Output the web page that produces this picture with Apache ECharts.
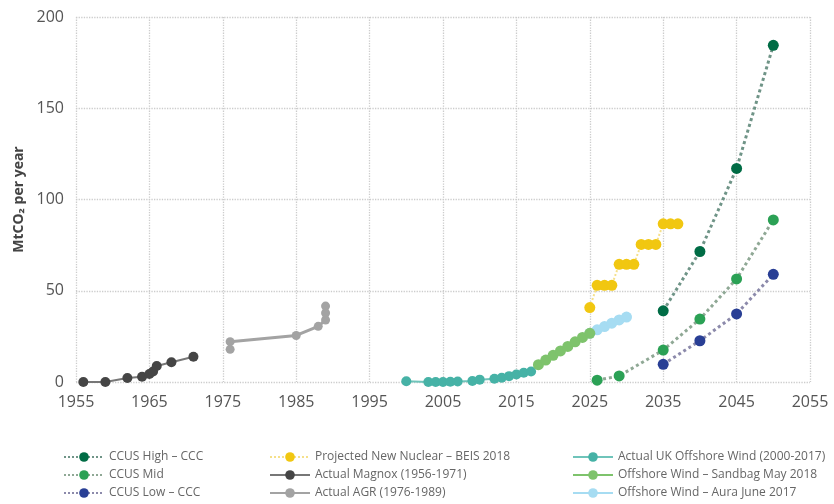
<!DOCTYPE html>
<html>
<head>
<meta charset="utf-8">
<script src="https://cdn.jsdelivr.net/npm/echarts@6/dist/echarts.min.js"></script>
<style>
  html, body { margin: 0; padding: 0; background: #ffffff; }
  #chart { width: 834px; height: 504px; }
</style>
</head>
<body>
<div id="chart"></div>
<script>
// Axis ticks
const xTicks = { min: 1955, max: 2055, step: 10 };
const yTicks = { min: 0, max: 200, step: 50 };

// CCUS scenarios (MtCO2 per year)
const ccusHighYears = [2035, 2040, 2045, 2050];
const ccusHighValues = [39, 71.5, 117, 184.5];
const ccusMidYears = [2026, 2029, 2035, 2040, 2045, 2050];
const ccusMidValues = [1, 3.3, 17.5, 34.5, 56.5, 88.8];
const ccusLowYears = [2035, 2040, 2045, 2050];
const ccusLowValues = [9.7, 22.6, 37.3, 59];

// Nuclear
const nuclearYears = [2025, 2026, 2027, 2028, 2029, 2030, 2031, 2032, 2033, 2034, 2035, 2036, 2037];
const nuclearValues = [40.8, 53, 53, 53, 64.5, 64.5, 64.5, 75.4, 75.4, 75.4, 86.7, 86.7, 86.7];
const magnoxYears = [1956, 1959, 1962, 1964, 1965, 1965.5, 1966, 1968, 1971];
const magnoxValues = [0, 0, 2.2, 2.9, 4.4, 5.8, 8.8, 10.8, 13.8];
const agrYears = [1976, 1976, 1985, 1988, 1989, 1989, 1989];
const agrValues = [17.9, 22.1, 25.5, 30.5, 34, 37.8, 41.6];

// Offshore wind
const windActualYears = [2000, 2003, 2004, 2005, 2006, 2007, 2009, 2010, 2012, 2013, 2014, 2015, 2016, 2017];
const windActualValues = [0.4, 0, 0, 0, 0.1, 0.3, 0.5, 1.3, 1.8, 2.3, 3.2, 4.1, 5.1, 5.8];
const sandbagYears = [2018, 2019, 2020, 2021, 2022, 2023, 2024, 2025];
const sandbagValues = [9.5, 12, 14.6, 17, 19.5, 22, 24.4, 26.7];
const auraYears = [2025, 2026, 2027, 2028, 2029, 2030];
const auraValues = [26.7, 28.6, 30.4, 32.2, 34, 35.6];

// Legend columns
const legendCol1 = ['CCUS High – CCC', 'CCUS Mid', 'CCUS Low – CCC'];
const legendCol2 = ['Projected New Nuclear – BEIS 2018', 'Actual Magnox (1956-1971)', 'Actual AGR (1976-1989)'];
const legendCol3 = ['Actual UK Offshore Wind (2000-2017)', 'Offshore Wind – Sandbag May 2018', 'Offshore Wind – Aura June 2017'];

const FONT = 'Open Sans';
const zip = (xs, ys) => xs.map((x, i) => [x, ys[i]]);

function lineSeries(name, xs, ys, color, lineColor, opts) {
  opts = opts || {};
  return {
    name: name,
    type: 'line',
    data: zip(xs, ys),
    symbol: 'circle',
    symbolSize: opts.size || 10,
    itemStyle: { color: color },
    lineStyle: {
      color: lineColor,
      width: opts.width || 2,
      type: opts.dash ? 'dotted' : 'solid'
    },
    z: opts.z || 2,
    animation: false
  };
}

const legendBase = {
  orient: 'vertical',
  top: 446,
  height: 80,
  itemWidth: 40,
  itemHeight: 12,
  itemGap: 6,
  textStyle: { color: '#666666', fontSize: 12, fontFamily: FONT },
  selectedMode: false
};

const chart = echarts.init(document.getElementById('chart'), null, { renderer: 'canvas' });
chart.setOption({
  backgroundColor: '#ffffff',
  animation: false,
  grid: { left: 76, right: 24, top: 17, bottom: 122 },
  xAxis: {
    type: 'value',
    min: xTicks.min, max: xTicks.max, interval: xTicks.step,
    axisLine: { show: false },
    axisTick: { show: false },
    axisLabel: { color: '#555555', fontSize: 16, fontFamily: FONT, margin: 12, formatter: v => String(v) },
    splitLine: { show: true, lineStyle: { color: '#cccccc', type: 'dotted', width: 1.3 } }
  },
  yAxis: {
    type: 'value',
    min: yTicks.min, max: yTicks.max, interval: yTicks.step,
    name: 'MtCO₂ per year',
    nameLocation: 'middle',
    nameGap: 44,
    nameRotate: 90,
    nameTextStyle: { color: '#444444', fontSize: 14, fontWeight: 'bold', fontFamily: FONT },
    axisLine: { show: false },
    axisTick: { show: false },
    axisLabel: { color: '#555555', fontSize: 16, fontFamily: FONT, margin: 12 },
    splitLine: { show: true, lineStyle: { color: '#cccccc', type: 'dotted', width: 1.3 } }
  },
  legend: [
    Object.assign({}, legendBase, { left: 58, data: legendCol1 }),
    Object.assign({}, legendBase, { left: 264, data: legendCol2 }),
    Object.assign({}, legendBase, { left: 567, data: legendCol3 })
  ],
  series: [
    lineSeries('Actual Magnox (1956-1971)', magnoxYears, magnoxValues, '#454545', '#777777', { width: 2 }),
    lineSeries('Actual AGR (1976-1989)', agrYears, agrValues, '#a3a3a3', '#a3a3a3', { width: 3, size: 9 }),
    lineSeries('Actual UK Offshore Wind (2000-2017)', windActualYears, windActualValues, '#46b2a6', '#6fc4ba', { size: 10 }),
    lineSeries('Offshore Wind – Aura June 2017', auraYears, auraValues, '#a6dcf2', '#a6dcf2', { size: 11 }),
    lineSeries('Offshore Wind – Sandbag May 2018', sandbagYears, sandbagValues, '#7ec36c', '#7ec36c', { size: 11, width: 3, z: 3 }),
    lineSeries('Projected New Nuclear – BEIS 2018', nuclearYears, nuclearValues, '#f1c711', '#f5e08a', { dash: true, size: 11, width: 2 }),
    lineSeries('CCUS High – CCC', ccusHighYears, ccusHighValues, '#006c45', '#6f9487', { dash: true, width: 3, size: 11, z: 4 }),
    lineSeries('CCUS Mid', ccusMidYears, ccusMidValues, '#2ba155', '#8fa895', { dash: true, width: 3, size: 11, z: 4 }),
    lineSeries('CCUS Low – CCC', ccusLowYears, ccusLowValues, '#293f95', '#8c8aab', { dash: true, width: 3, size: 11, z: 4 })
  ]
});
</script>
</body>
</html>
